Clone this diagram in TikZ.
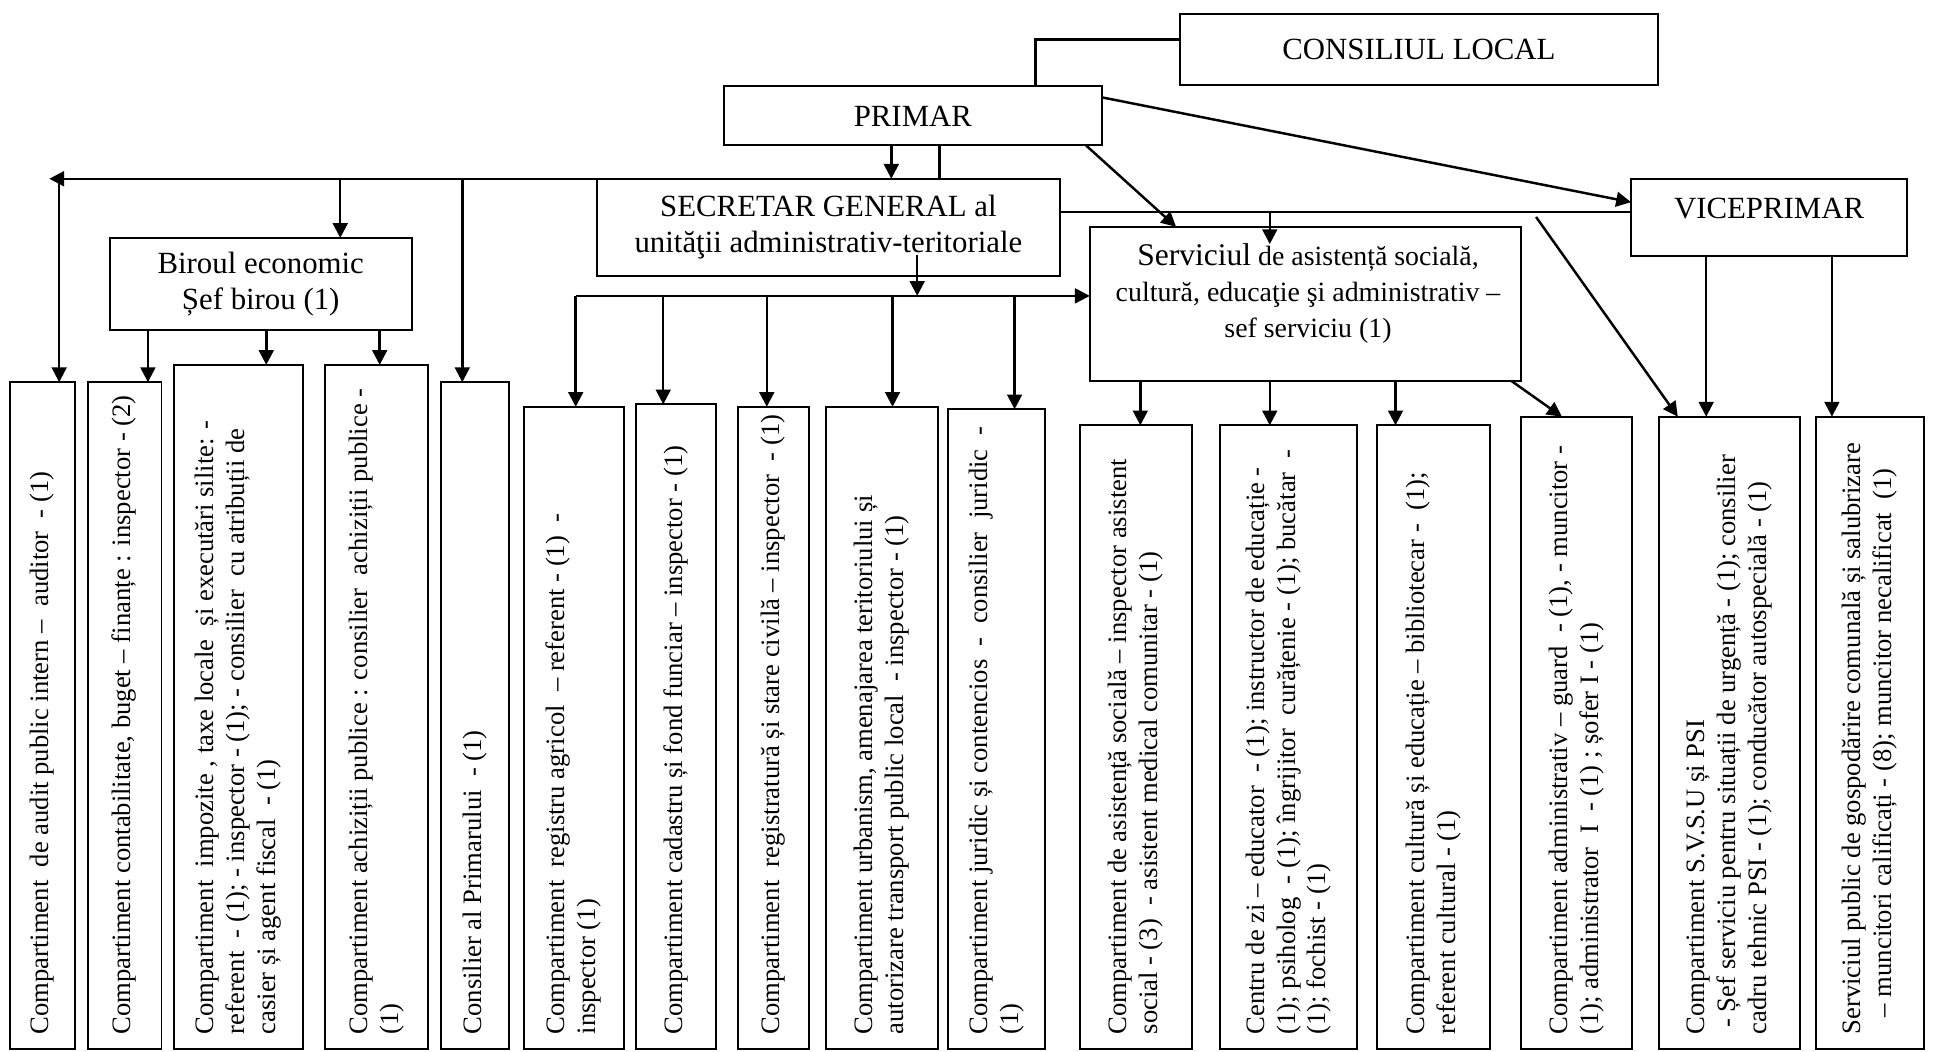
\documentclass[tikz,border=0pt]{standalone}
\usepackage{graphicx}
\usepackage{fontspec}
\setmainfont{Liberation Serif}
\usetikzlibrary{arrows.meta,calc}
\newcommand\vfont{\fontsize{10.8pt}{12.5pt}\selectfont}
\newcommand\tfont{\fontsize{12.5pt}{14.5pt}\selectfont}
\newcommand\sfont{\fontsize{11.3pt}{14.6pt}\selectfont}
% horizontal box: name x1 y1 x2 y2 text
\newcommand\hbx[6]{\node[frame, anchor=north west, minimum width={(#4-#2)*0.5pt}, minimum height={(#5-#3)*0.5pt}, align=center, font=\tfont] (#1) at (#2,#3) {#6};}
% vertical box with rotated text
\newcommand\vbx[6]{\node[frame, anchor=north west, minimum width={(#4-#2)*0.5pt}, minimum height={(#5-#3)*0.5pt}] (#1) at (#2,#3) {\rotatebox{90}{\makebox[\dimexpr(#5pt-#3pt-24pt)/2\relax][l]{\vfont\begin{tabular}{@{}l@{}}#6\end{tabular}}}};}
\begin{document}
\begin{tikzpicture}[x=0.5pt,y=-0.5pt,
  frame/.style={draw,line width=0.8pt,inner sep=0pt,outer sep=0pt},
  conn/.style={line width=1pt},
  arr/.style={conn,-{Triangle[length=6pt,width=6pt]}}]
\useasboundingbox (0,0) rectangle (1568,853);
% top boxes
\hbx{cl}{957}{11}{1345}{69}{CONSILIUL LOCAL}
\hbx{primar}{587}{70}{894}{118}{PRIMAR}
\hbx{sec}{484}{145}{860}{224}{SECRETAR GENERAL al\\unităţii administrativ-teritoriale}
\hbx{birou}{89}{193}{334}{268}{Biroul economic\\Șef birou (1)}
\hbx{vice}{1323}{145}{1547}{208}{}
\node[font=\tfont] (vicet) at (1435,169) {VICEPRIMAR};
\hbx{serv}{884}{184}{1234}{309}{}
\node[align=center,font=\sfont] (servt) at (1061,238) {{\fontsize{12.8pt}{14.6pt}\selectfont Serviciul} de asistență socială,\\cultură, educaţie şi administrativ –\\sef serviciu (1)};
% vertical boxes
\vbx{b1}{8}{310}{61}{851}{Compartiment\ \ de audit public intern –\ \ auditor\ \ - (1)}
\vbx{b2}{71}{310}{131}{851}{Compartiment contabilitate, buget – finanțe : inspector - (2)}
\vbx{b3}{141}{296}{246}{851}{Compartiment\ \ impozite , taxe locale\ \ și executări silite: -\\referent\ \ - (1); - inspector - (1); - consilier\ \ cu atribuții de\\casier și agent fiscal\ \ - (1)}
\vbx{b4}{264}{296}{347}{851}{Compartiment achiziții publice : consilier\ \ achiziții publice -\\(1)}
\vbx{b5}{358}{310}{413}{851}{Consilier al Primarului\ \ - (1)}
\vbx{b6}{425}{330}{506}{851}{Compartiment\ \ registru agricol\ \ – referent - (1)\ \ -\\inspector (1)}
\vbx{b7}{516}{328}{581}{851}{Compartiment cadastru și fond funciar – inspector - (1)}
\vbx{b8}{599}{330}{656}{851}{Compartiment\ \ registratură și stare civilă – inspector\ \ - (1)}
\vbx{b9}{670}{330}{761}{851}{Compartiment urbanism, amenajarea teritoriului și\\autorizare transport public local\ \ - inspector - (1)}
\vbx{b10}{769}{332}{848}{851}{Compartiment juridic și contencios\ \ -\ \ consilier\ \ juridic\ \ -\\(1)}
\vbx{b11}{876}{345}{967}{851}{Compartiment de asistență socială – inspector asistent\\social - (3)\ \ - asistent medical comunitar - (1)}
\vbx{b12}{990}{345}{1101}{851}{Centru de zi – educator\ \ - (1); instructor de educație -\\(1); psiholog\ \ - (1); îngrijitor\ \ curățenie - (1); bucătar\ \ -\\(1); fochist - (1)}
\vbx{b13}{1117}{345}{1209}{851}{Compartiment cultură și educație – bibliotecar -\ \ (1);\\referent cultural - (1)}
\vbx{b14}{1234}{338}{1324}{851}{Compartiment administrativ – guard\ \ - (1), - muncitor -\\(1); administrator\ \ I\ \ - (1) ; șofer I - (1)}
\vbx{b15}{1346}{338}{1460}{851}{Compartiment S.V.S.U și PSI\\\ - Șef serviciu pentru situații de urgență - (1); consilier\\cadru tehnic PSI - (1); conducător autospecială - (1)}
\vbx{b16}{1473}{338}{1561}{851}{Serviciul public de gospodărire comunală și salubrizare\\\hspace{7pt}– muncitori calificați - (8); muncitor necalificat\ \ (1)}
% coordinates
\coordinate (busR) at (723,145);
\coordinate (busL) at (40,145);
\coordinate (busV) at (48,145);
\coordinate (sb) at (744,207);
\coordinate (lbR) at (744,240);
\coordinate (lbL) at (467,240);
\coordinate (svl) at (0,172);
\coordinate (servtip) at (1030,198);
\coordinate (dstart) at (1246,176);
% connectors
\draw[conn] (cl.west |- 0,32) -| (primar.north -| 840,0);
\draw[arr] (primar.south -| busR) -- (busR);
\draw[arr] (busR) -- (busL);
\draw[arr] (busV) -- (b1.north -| busV);
\draw[arr] (busR -| 276,0) -- (birou.north -| 276,0);
\draw[arr] (busR -| 375,0) -- (b5.north -| 375,0);
\draw[conn] (primar.south -| 762,0) -- (sec.north -| 762,0);
\draw[arr] (birou.south -| 120,0) -- (b2.north -| 120,0);
\draw[arr] (birou.south -| 216,0) -- (b3.north -| 216,0);
\draw[arr] (birou.south -| 308,0) -- (b4.north -| 308,0);
\draw[arr] (sb) -- (lbR);
\draw[arr] (lbL) -- (serv.west |- lbL);
\draw[arr] (lbL) -- (b6.north -| lbL);
\draw[arr] (lbL -| 538,0) -- (b7.north -| 538,0);
\draw[arr] (lbL -| 622,0) -- (b8.north -| 622,0);
\draw[arr] (lbL -| 724,0) -- (b9.north -| 724,0);
\draw[arr] (lbL -| 823,0) -- (b10.north -| 823,0);
\draw[conn] (sec.east |- svl) -- (vice.west |- svl);
\draw[arr] (svl -| servtip) -- (servtip);
\draw[arr] (primar.south -| 881,0) -- (serv.north -| 954,0);
\draw[arr] (primar.east |- 0,79) -- (vice.west |- 0,164);
\draw[arr] (dstart) -- (b15.north -| 1361,0);
\draw[arr] (vice.south -| 1384,0) -- (b15.north -| 1384,0);
\draw[arr] (vice.south -| 1486,0) -- (b16.north -| 1486,0);
\draw[arr] (serv.south -| 925,0) -- (b11.north -| 925,0);
\draw[arr] (serv.south -| 1030,0) -- (b12.north -| 1030,0);
\draw[arr] (serv.south -| 1132,0) -- (b13.north -| 1132,0);
\draw[arr] (serv.south -| 1226,0) -- (b14.north -| 1267,0);
\end{tikzpicture}
\end{document}
